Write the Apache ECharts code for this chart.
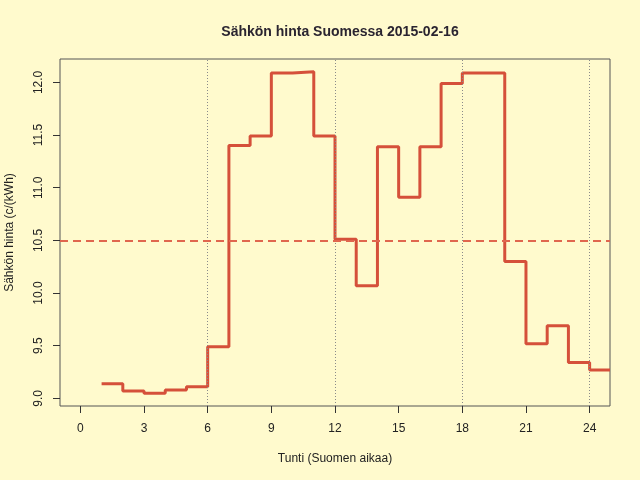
<!DOCTYPE html>
<html>
<head>
<meta charset="utf-8">
<script src="https://cdn.jsdelivr.net/npm/echarts@6/dist/echarts.min.js"></script>
<style>
  html, body { margin: 0; padding: 0; background: #fffacd; }
  #chart { width: 640px; height: 480px; }
</style>
</head>
<body>
<div id="chart"></div>
<script>
// tunnit 1..24, hinta c/kWh (luettu kuvasta)
var hours = [1, 2, 3, 4, 5, 6, 7, 8, 9, 10, 11, 12, 13, 14, 15, 16, 17, 18, 19, 20, 21, 22, 23, 24];
var prices = [9.14, 9.07, 9.05, 9.08, 9.11, 9.49, 11.40, 11.49, 12.09, 12.10, 11.49, 10.51,
  10.07, 11.39, 10.91, 11.39, 11.99, 12.09, 12.09, 10.30, 9.52, 9.69, 9.34, 9.27];
var xTicks = [0, 3, 6, 9, 12, 15, 18, 21, 24];
var yTicks = [9.0, 9.5, 10.0, 10.5, 11.0, 11.5, 12.0];
var gridHours = [6, 12, 18, 24];

var font = 'Liberation Sans, Arial, sans-serif';
var chart = echarts.init(document.getElementById('chart'));

// R-tyylinen 4 % laajennus
var yMin = Math.min.apply(null, prices);
var yMax = Math.max.apply(null, prices);
var yPad = (yMax - yMin) * 0.04;
var xPad = (xTicks[xTicks.length - 1] - xTicks[0]) * 0.04;
var xMin = xTicks[0] - xPad;
var xMax = xTicks[xTicks.length - 1] + xPad;

var mean = prices.reduce(function (a, b) { return a + b; }, 0) / prices.length;

// porraskäyrä: viimeinen taso jatkuu kuvan reunaan
var stepData = hours.map(function (h, i) { return [h, prices[i]]; });
stepData.push([xMax, prices[prices.length - 1]]);

var markData = gridHours.map(function (h) {
  return {
    xAxis: h,
    lineStyle: { color: '#8a8a8a', type: [1, 2], width: 1 }
  };
});
markData.push({
  yAxis: mean,
  lineStyle: { color: '#e0664e', type: [8, 5], width: 2 }
});

var option = {
  backgroundColor: '#fffacd',
  animation: false,
  title: {
    text: 'Sähkön hinta Suomessa 2015-02-16',
    left: 335,
    top: 20,
    textAlign: 'center',
    textStyle: { fontFamily: font, fontSize: 14, fontWeight: 'bold', color: '#2a2430' }
  },
  grid: {
    left: 60,
    right: 30,
    top: 59,
    bottom: 74,
    outerBoundsMode: 'none',
    containLabel: false,
    show: true,
    borderColor: '#555',
    borderWidth: 1,
    backgroundColor: 'transparent'
  },
  xAxis: {
    type: 'value',
    min: xMin,
    max: xMax,
    name: 'Tunti (Suomen aikaa)',
    nameLocation: 'middle',
    nameGap: 47,
    nameTextStyle: { fontFamily: font, fontSize: 12, color: '#222' },
    axisLine: { show: false, onZero: false },
    axisTick: {
      show: true,
      inside: false,
      length: 7,
      customValues: xTicks,
      lineStyle: { color: '#333' }
    },
    axisLabel: {
      customValues: xTicks,
      margin: 17,
      fontFamily: font,
      fontSize: 12,
      color: '#222'
    },
    splitLine: { show: false }
  },
  yAxis: {
    type: 'value',
    min: yMin - yPad,
    max: yMax + yPad,
    name: 'Sähkön hinta (c/(kWh)',
    nameLocation: 'middle',
    nameRotate: 90,
    nameGap: 44,
    nameTextStyle: { fontFamily: font, fontSize: 12, color: '#222' },
    axisLine: { show: false, onZero: false },
    axisTick: {
      show: true,
      inside: false,
      length: 7,
      customValues: yTicks,
      lineStyle: { color: '#333' }
    },
    axisLabel: {
      customValues: yTicks,
      rotate: 90,
      margin: 15,
      fontFamily: font,
      fontSize: 12,
      color: '#222',
      formatter: function (v) { return v.toFixed(1); }
    },
    splitLine: { show: false }
  },
  series: [{
    type: 'line',
    step: 'end',
    data: stepData,
    showSymbol: false,
    clip: true,
    lineStyle: { color: '#d5503a', width: 3 },
    itemStyle: { color: '#d5503a' },
    markLine: {
      silent: true,
      symbol: 'none',
      label: { show: false },
      emphasis: { disabled: true },
      data: markData
    },
    z: 3
  }]
};
chart.setOption(option);
</script>
</body>
</html>
